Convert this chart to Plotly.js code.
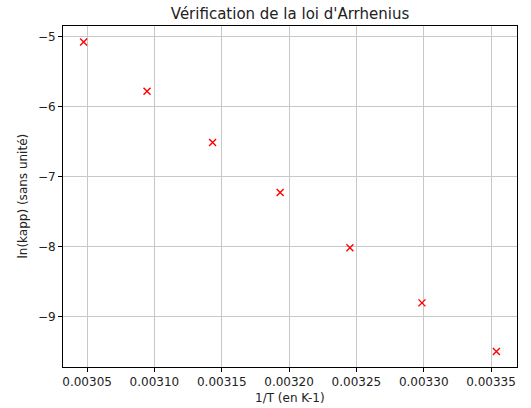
<!DOCTYPE html>
<html>
<head>
<meta charset="utf-8">
<script src="https://cdn.plot.ly/plotly-3.0.1.min.js"></script>
<style>html,body{margin:0;padding:0;background:#fff;}</style>
</head>
<body>
<div id="chart" style="width:531px;height:408px;"></div>
<script>
// 1/T (K^-1)
const invT = [0.0030474, 0.0030945, 0.0031432, 0.0031934, 0.0032452, 0.0032987, 0.0033540];
// ln(kapp)
const lnKapp = [-5.075, -5.777, -6.511, -7.226, -8.016, -8.804, -9.500];
const xTicks = [0.00305, 0.00310, 0.00315, 0.00320, 0.00325, 0.00330, 0.00335];
const yTicks = [-9, -8, -7, -6, -5];

const font = 'DejaVu Sans, sans-serif';

const trace = {
  x: invT, y: lnKapp, type: 'scatter', mode: 'markers',
  marker: {symbol: 'x-thin', size: 7, color: 'red', line: {color: 'red', width: 1.4}},
  showlegend: false, hoverinfo: 'skip'
};

const axisCommon = {
  showline: true, mirror: true, linecolor: '#000', linewidth: 1,
  ticks: 'outside', ticklen: 4, tickwidth: 1, tickcolor: '#000',
  showgrid: true, gridcolor: '#c8c8c8', gridwidth: 1,
  zeroline: false, tickfont: {family: font, size: 12, color: '#222'}
};

const layout = {
  width: 531, height: 408,
  margin: {l: 63, r: 14, t: 26, b: 41},
  paper_bgcolor: '#fff', plot_bgcolor: '#fff',
  title: {text: "Vérification de la loi d'Arrhenius", font: {family: font, size: 15, color: '#222'},
          x: 0.5, xref: 'paper', xanchor: 'center', y: 1 - 14/408, yref: 'container', yanchor: 'middle'},
  xaxis: Object.assign({}, axisCommon, {
    range: [0.0030321, 0.0033693], tickvals: xTicks, tickformat: '.5f'
  }),
  yaxis: Object.assign({}, axisCommon, {
    range: [-9.721, -4.845], tickvals: yTicks, tickformat: 'd'
  }),
  annotations: [
    {text: '1/T (en K-1)', xref: 'paper', yref: 'paper', x: 0.5, y: -(398-367)/341, xanchor: 'center', yanchor: 'middle',
     showarrow: false, font: {family: font, size: 12, color: '#222'}},
    {text: 'ln(kapp) (sans unité)', xref: 'paper', yref: 'paper', x: -(63-22)/454, y: 0.5, xanchor: 'center', yanchor: 'middle',
     textangle: -90, showarrow: false, font: {family: font, size: 12, color: '#222'}}
  ]
};

Plotly.newPlot('chart', [trace], layout, {staticPlot: true, displayModeBar: false});
</script>
</body>
</html>
